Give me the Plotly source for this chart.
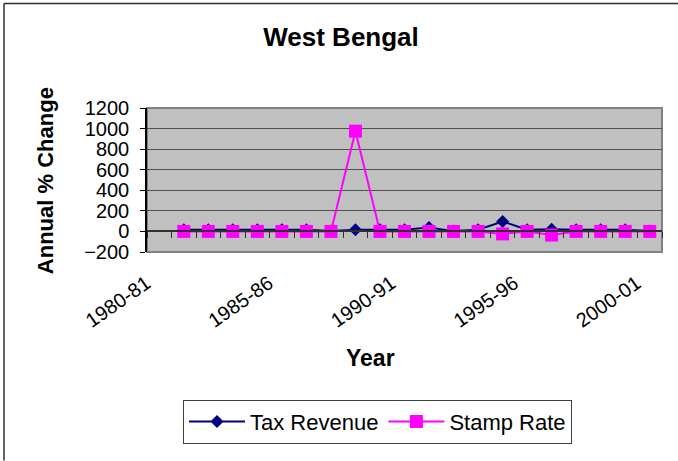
import plotly.graph_objects as go

years = ["1980-81", "1981-82", "1982-83", "1983-84", "1984-85", "1985-86", "1986-87",
         "1987-88", "1988-89", "1989-90", "1990-91", "1991-92", "1992-93", "1993-94",
         "1994-95", "1995-96", "1996-97", "1997-98", "1998-99", "1999-00", "2000-01"]
tax_revenue = [None, 16, 16, 16, 16, 16, 16, 5, 16, 16, 16, 39, 3, 16, 97, 16, 22, 16, 16, 16, 5]
stamp_rate = [None, 0, 0, 0, 0, 0, 0, 0, 975, 0, 0, 0, 0, 0, -24, 0, -35, 0, 0, 0, 0]
tick_labels = ["1980-81", "1985-86", "1990-91", "1995-96", "2000-01"]
y_ticks = [-200, 0, 200, 400, 600, 800, 1000, 1200]

FONT = "Liberation Sans, Arial, sans-serif"
ymin, ymax = -200, 1200

fig = go.Figure()
fig.add_trace(go.Scatter(
    x=years, y=tax_revenue, name="Tax Revenue", mode="lines+markers",
    line=dict(color="#000080", width=2),
    marker=dict(symbol="diamond", size=10, color="#000080"),
))
fig.add_trace(go.Scatter(
    x=years, y=stamp_rate, name="Stamp Rate", mode="lines+markers",
    line=dict(color="#FF00FF", width=2),
    marker=dict(symbol="square", size=13, color="#FF00FF"),
))

zero_pos = (0 - ymin) / (ymax - ymin)

fig.update_layout(
    width=678, height=461,
    margin=dict(l=147, r=16, t=108, b=209),
    paper_bgcolor="white", plot_bgcolor="#C0C0C0",
    font=dict(family=FONT, color="black"),
    title=dict(text="<b>West Bengal</b>", x=0.503, xanchor="center", y=1 - 37 / 461,
               yanchor="middle", font=dict(size=26, family=FONT)),
    xaxis=dict(type="category", categoryorder="array", categoryarray=years,
               range=[-0.5, len(years) - 0.5], anchor="free", position=zero_pos,
               showline=True, linecolor="#303030", linewidth=1.5,
               tickson="boundaries", ticks="outside", ticklen=6, tickcolor="#303030",
               showticklabels=False, showgrid=False, zeroline=False),
    xaxis2=dict(overlaying="x", anchor="y", side="bottom",
                range=[-0.5, len(years) - 0.5],
                tickmode="array", tickvals=[years.index(t) for t in tick_labels],
                ticktext=tick_labels, tickangle=-35, ticks="", showgrid=False,
                zeroline=False, showline=False, ticklabelstandoff=15,
                ticklabelshift=-13,
                tickfont=dict(size=20, family=FONT)),
    yaxis=dict(range=[ymin, ymax], tickvals=y_ticks, showgrid=True,
               gridcolor="#505050", gridwidth=1.3, zeroline=False,
               showline=True, linecolor="black", linewidth=1.5,
               ticks="outside", ticklen=5, tickcolor="black",
               tickfont=dict(size=20, family=FONT), ticklabelstandoff=7),
    showlegend=True,
    legend=dict(orientation="h", x=(377.5 - 147) / 515, xanchor="center",
                y=(252 - 400) / 144.3, yanchor="top", itemwidth=56,
                bordercolor="#404040", borderwidth=1, bgcolor="white",
                font=dict(size=22, family=FONT)),
    annotations=[
        dict(text="<b>Year</b>", xref="paper", yref="paper",
             x=(370 - 147) / 515, y=(252 - 358) / 144.3, xanchor="center", yanchor="middle",
             showarrow=False, font=dict(size=23, family=FONT)),
        dict(text="<b>Annual % Change</b>", xref="paper", yref="paper", textangle=-90,
             x=(45 - 147) / 515, y=(252 - 181) / 144.3, xanchor="center", yanchor="middle",
             showarrow=False, font=dict(size=22, family=FONT)),
    ],
    shapes=[
        dict(type="rect", xref="paper", yref="paper", x0=0, x1=1, y0=0, y1=1,
             line=dict(color="#808080", width=2), layer="below"),
        dict(type="line", xref="paper", yref="paper",
             x0=(4 - 147) / 515, x1=(678 - 147) / 515,
             y0=(252 - 3) / 144.3, y1=(252 - 3) / 144.3,
             line=dict(color="#303030", width=1.5)),
        dict(type="line", xref="paper", yref="paper",
             x0=(4 - 147) / 515, x1=(4 - 147) / 515,
             y0=(252 - 3) / 144.3, y1=(252 - 461) / 144.3,
             line=dict(color="#303030", width=1.5)),
    ],
)
# invisible helper to activate xaxis2 for labels
fig.add_trace(go.Scatter(x=[0], y=[None], xaxis="x2", yaxis="y", showlegend=False,
                         hoverinfo="skip", mode="markers"))

fig.write_html("out.html", config={"displayModeBar": False},
               post_script="document.body.style.margin='0';document.body.style.overflow='hidden';")
